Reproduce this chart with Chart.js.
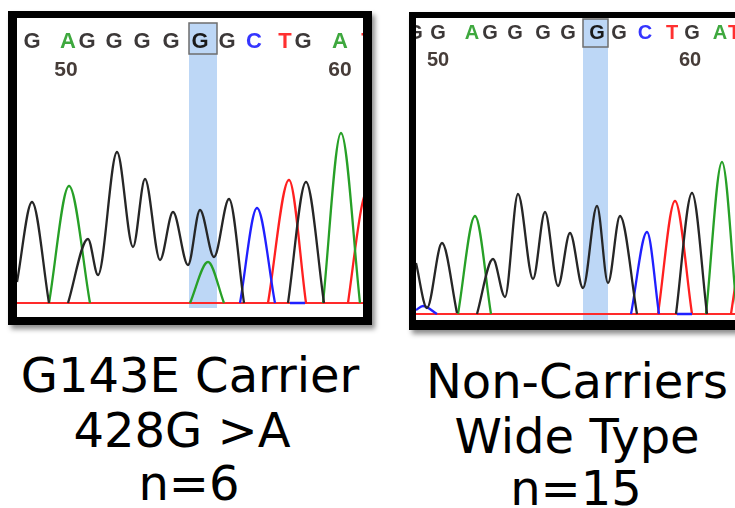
<!DOCTYPE html>
<html>
<head>
<meta charset="utf-8">
<script src="https://cdn.jsdelivr.net/npm/chart.js@4.4.0/dist/chart.umd.min.js"></script>
<style>
html, body { margin: 0; padding: 0; background: #fff; overflow: hidden; width: 735px; height: 508px; }
.panel { position: absolute; border: solid #000; background: #fff; box-shadow: 3px 4px 5px rgba(0,0,0,.45); }
#leftPanel { left: 8px; top: 11px; width: 346px; height: 299px; border-width: 7px 9px 8px 9px; }
#rightPanel { left: 409px; top: 12px; width: 330px; height: 302px; border-width: 6px 7px 10px 7px; }
canvas { display: block; }
.caption { position: absolute; font-family: "DejaVu Sans", Verdana, sans-serif; font-size: 48px; line-height: 48px; text-align: center; color: #000; white-space: nowrap; }
</style>
</head>
<body>
<div class="panel" id="leftPanel"><canvas id="carrierChart" width="346" height="299"></canvas></div>
<div class="panel" id="rightPanel"><canvas id="wildChart" width="330" height="302"></canvas></div>

<div class="caption" style="left:0;width:380px;top:351px">G143E Carrier</div>
<div class="caption" style="left:0;width:364px;top:406px">428G &gt;A</div>
<div class="caption" style="left:0;width:378px;top:459px">n=6</div>
<div class="caption" style="left:400px;width:354px;top:357px">Non-Carriers</div>
<div class="caption" style="left:400px;width:354px;top:412px">Wide Type</div>
<div class="caption" style="left:400px;width:352px;top:464px">n=15</div>

<script>
// base calls shown above both traces
const baseCalls = ["G", "A", "G", "G", "G", "G", "G", "G", "C", "T", "G", "A", "T"];
const highlightIndex = 6; // the 428 G

// ---- G143E carrier (left) ----
// x = scan position, y = signal intensity
const carrierCallPos = [15, 51, 70, 97, 125, 154, 183, 210, 237, 268, 286, 323, 351];
const carrierTickPos = [49, 323];
const carrierTickLabels = ["50", "60"];
const carrierBand = [172, 200];

const carrierG = [
    [0, 210], [15, 1010], [32, 0], null,
    [51, 0], [71, 640], [81, 280], [100, 1510], [116, 560], [128, 1240], [143, 430],
    [156, 910], [171, 380], [183, 930], [197, 460], [212, 1040], [227, 0], null,
    [271, 0], [289, 1210], [307, 0]
];
const carrierA = [
    [32, 0], [52, 1170], [73, 0], null,
    [173, 0], [191, 410], [207, 0], null,
    [306, 0], [324, 1700], [343, 0]
];
const carrierC = [
    [223, 0], [240, 950], [258, 0], null,
    [273, 0], [288, 0]
];
const carrierT = [
    [251, 0], [272, 1230], [289, 0], null,
    [331, 0], [345, 980], [352, 1150], [366, 0]
];

// ---- non-carriers / wild type (right) ----
const wildCallPos = [-1, 22, 56, 74, 99, 127, 152, 181, 203, 229, 256, 276, 304, 318];
const wildCalls = ["G"].concat(baseCalls);
const wildTickPos = [22, 274];
const wildTickLabels = ["50", "60"];
const wildBand = [167, 192];

const wildG = [
    [0, 510], [11, 60], [26, 710], [41, 10], null,
    [61, 0], [77, 550], [89, 170], [102, 1200], [117, 350], [129, 1020], [142, 280],
    [154, 810], [167, 260], [181, 1080], [192, 310], [204, 980], [221, 0], null,
    [260, 0], [276, 1210], [291, 0]
];
const wildA = [
    [42, 0], [59, 980], [75, 0], null,
    [290, 0], [306, 1520], [321, 0]
];
const wildC = [
    [0, 40], [7, 80], [21, 0], null,
    [215, 0], [231, 820], [243, 0], null,
    [261, 0], [276, 0]
];
const wildT = [
    [242, 0], [259, 1130], [276, 0], null,
    [315, 0], [319, 270], [330, 1000]
];

const traceColors = { A: "#27a027", C: "#2020ff", G: "#262626", T: "#ff2020" };
const callColors = { A: "#3ea83e", C: "#3535ff", G: "#3c3838", T: "#ff3030" };

function toPoints(list) {
    return list.map((p) => (p ? { x: p[0], y: p[1] } : { x: NaN, y: null }));
}

function trace(list, base) {
    return {
        data: toPoints(list),
        borderColor: traceColors[base],
        borderWidth: 2.3,
        pointRadius: 0,
        cubicInterpolationMode: "monotone",
        spanGaps: false,
        fill: false,
    };
}

// band + base letters drawn on top of the trace area
const baseCallPlugin = {
    id: "baseCalls",
    beforeDatasetsDraw(chart, args, opts) {
        const { ctx, chartArea } = chart;
        const xs = chart.scales.x;
        const ys = chart.scales.y;
        const x0 = xs.getPixelForValue(opts.band[0]);
        const x1 = xs.getPixelForValue(opts.band[1]);
        const top = chartArea.top + opts.bandTop;
        const bottom = ys.getPixelForValue(0) + opts.bandBelow;
        ctx.save();
        ctx.fillStyle = "#bdd7f6";
        ctx.fillRect(x0, top, x1 - x0, bottom - top);
        ctx.strokeStyle = "#6e6e6e";
        ctx.lineWidth = 1.5;
        ctx.strokeRect(x0, top, x1 - x0, opts.boxHeight);
        ctx.restore();
    },
    afterDatasetsDraw(chart, args, opts) {
        const { ctx, chartArea } = chart;
        const xs = chart.scales.x;
        ctx.save();
        ctx.textAlign = "center";
        ctx.textBaseline = "middle";
        ctx.font = "bold " + opts.callSize + 'px "Liberation Sans", Arial, sans-serif';
        opts.calls.forEach((b, i) => {
            ctx.fillStyle = i === opts.highlight ? "#1a1a1a" : callColors[b];
            ctx.fillText(b, xs.getPixelForValue(opts.positions[i]), chartArea.top + opts.callY);
        });
        ctx.font = "bold " + opts.tickSize + 'px "Liberation Sans", Arial, sans-serif';
        ctx.fillStyle = "#463c38";
        opts.tickLabels.forEach((t, i) => {
            ctx.fillText(t, xs.getPixelForValue(opts.tickPos[i]), chartArea.top + opts.tickY);
        });
        ctx.restore();
    },
};

function makeChart(id, traces, xMax, yMin, yMax, calls) {
    const datasets = [
        trace(traces.G, "G"),
        trace(traces.A, "A"),
        trace(traces.C, "C"),
        trace(traces.T, "T"),
        {
            data: toPoints([[0, 0], [xMax, 0]]),
            borderColor: "#ff2a2a",
            borderWidth: 2,
            pointRadius: 0,
            fill: false,
        },
    ];
    return new Chart(document.getElementById(id), {
        type: "line",
        data: { datasets: datasets },
        options: {
            responsive: false,
            animation: false,
            layout: { padding: 0 },
            scales: {
                x: { type: "linear", min: 0, max: xMax, display: false },
                y: { min: yMin, max: yMax, display: false },
            },
            plugins: {
                legend: { display: false },
                tooltip: { enabled: false },
                baseCalls: calls,
            },
        },
        plugins: [baseCallPlugin],
    });
}

makeChart("carrierChart", { G: carrierG, A: carrierA, C: carrierC, T: carrierT }, 346, -140, 2850, {
    calls: baseCalls,
    positions: carrierCallPos,
    highlight: highlightIndex,
    tickPos: carrierTickPos,
    tickLabels: carrierTickLabels,
    band: carrierBand,
    bandTop: 5,
    bandBelow: 5,
    boxHeight: 31,
    callY: 24,
    callSize: 22,
    tickY: 52,
    tickSize: 21,
});

makeChart("wildChart", { G: wildG, A: wildA, C: wildC, T: wildT }, 330, -60, 2960, {
    calls: wildCalls,
    positions: wildCallPos,
    highlight: highlightIndex + 1,
    tickPos: wildTickPos,
    tickLabels: wildTickLabels,
    band: wildBand,
    bandTop: 1,
    bandBelow: 6,
    boxHeight: 28,
    callY: 15,
    callSize: 20,
    tickY: 42,
    tickSize: 20,
});
</script>
</body>
</html>
